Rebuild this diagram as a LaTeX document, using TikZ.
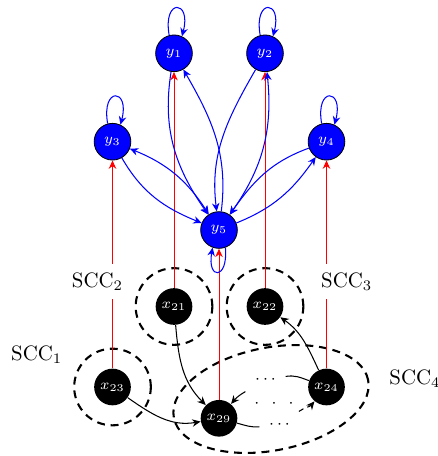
\documentclass[tikz,border=0pt]{standalone}
\usetikzlibrary{arrows.meta}
\begin{document}
\begin{tikzpicture}[x=0.48pt, y=-0.48pt,
  >={Stealth[length=4pt,width=3.6pt,inset=1.3pt]},
  ynode/.style={circle, draw=black, fill=blue, text=white, minimum size=17.6pt,
                inner sep=0pt, font=\scriptsize, line width=0.4pt},
  xnode/.style={circle, fill=black, text=white, minimum size=17.6pt,
                inner sep=0pt, font=\scriptsize},
  yedge/.style={blue, line width=0.5pt},
  xedge/.style={black, line width=0.5pt},
  redge/.style={red, line width=0.45pt, ->},
  sccline/.style={black, line width=1pt, dash pattern=on 3.8pt off 2.8pt},
  scclabel/.style={fill=white, inner sep=4.2pt},
  dotsnode/.style={font=\footnotesize, inner sep=4.5pt}
]
\useasboundingbox (0,0) rectangle (438,456);

% output variables
\node[ynode] (y1) at (174,53.3)    {$y_1$};
\node[ynode] (y2) at (265,53.3)    {$y_2$};
\node[ynode] (y3) at (112.5,141.7) {$y_3$};
\node[ynode] (y4) at (326.5,141.7) {$y_4$};
\node[ynode] (y5) at (219,230)     {$y_5$};

% state variables
\node[xnode] (x21) at (174,306.5)   {$x_{21}$};
\node[xnode] (x22) at (265,306.5)   {$x_{22}$};
\node[xnode] (x23) at (112.5,387)   {$x_{23}$};
\node[xnode] (x24) at (326.5,387)   {$x_{24}$};
\node[xnode] (x29) at (219,418.3)   {$x_{29}$};

% strongly connected components
\coordinate (c4) at (271,399);
\draw[sccline] (x21.center) circle[radius=18.4pt];
\draw[sccline] (x22.center) circle[radius=18.4pt];
\draw[sccline] (x23.center) circle[radius=18.4pt];
\draw[sccline, rotate around={11:(c4)}] (c4) ellipse[x radius=47.5pt, y radius=24.7pt];

% measurement edges
\draw[redge] (x21) -- (y1);
\draw[redge] (x22) -- (y2);
\draw[redge] (x23) -- (y3);
\draw[redge] (x24) -- (y4);
\draw[redge] (x29) -- (y5);

% self loops of the outputs
\draw[yedge,->] (y1.105) .. controls +(100:18.2pt) and +(75:18.2pt) .. (y1.65);
\draw[yedge,->] (y2.105) .. controls +(100:18.2pt) and +(75:18.2pt) .. (y2.65);
\draw[yedge,->] (y3.105) .. controls +(100:18.2pt) and +(75:18.2pt) .. (y3.65);
\draw[yedge,->] (y4.105) .. controls +(100:18.2pt) and +(75:18.2pt) .. (y4.65);
\draw[yedge,->] (y5.-70) .. controls +(-85:15.8pt) and +(-100:15.8pt) .. (y5.-110);

% couplings between outputs
\draw[yedge,->]  (y1) to[out=-99, in=125] (y5);
\draw[yedge,->]  (y5) to[out=83, in=-60] (y1);
\draw[yedge,->]  (y2) to[out=-120, in=97] (y5);
\draw[yedge,<->] (y5) to[out=55, in=-84] (y2);
\draw[yedge,->]  (y3) to[out=-60, in=158] (y5);
\draw[yedge,<->] (y5) to[out=123, in=-22] (y3);
\draw[yedge,->]  (y4) to[out=-160, in=55] (y5);
\draw[yedge,->]  (y5) to[out=22, in=-125] (y4);

% couplings between states
\draw[xedge,->] (x21) to[out=-85, in=135] (x29);
\draw[xedge,->] (x23) to[out=-35, in=190] (x29);
\draw[xedge,->] (x24) to[out=115, in=-35] (x22);

\node[dotsnode] (d1) at (265.5,380) {$\cdots$};
\node[dotsnode] (d2) at (274,404)   {$\cdot\hspace{4pt}\cdot\hspace{4pt}\cdot$};
\node[dotsnode] (d3) at (279.5,425) {$\cdots$};
\draw[xedge]    (x24) to[out=160, in=10] (d1);
\draw[xedge,->] (d1) to[out=-150, in=50] (x29);
\draw[xedge]    (x29) to[out=-15, in=185] (d3);
\draw[xedge,->,dash pattern=on 2.5pt off 2pt] (d3) to[out=35, in=-130] (x24);

% component labels
\node[scclabel] (s1) at (36.7,355)   {SCC$_1$};
\node[scclabel] (s2) at (97.5,281.5) {SCC$_2$};
\node[scclabel] (s3) at (346.7,281.5) {SCC$_3$};
\node[scclabel] (s4) at (415,379)    {SCC$_4$};
\end{tikzpicture}
\end{document}
